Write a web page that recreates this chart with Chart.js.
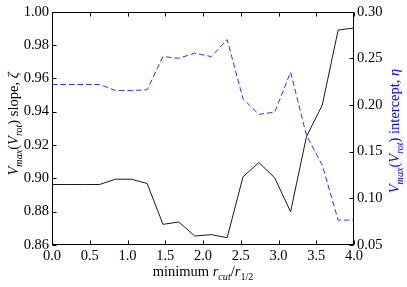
<!DOCTYPE html>
<html>
<head>
<meta charset="utf-8">
<script src="https://cdn.jsdelivr.net/npm/chart.js@4.4.1/dist/chart.umd.min.js"></script>
<style>
html,body{margin:0;padding:0;background:#fff;}
#wrap{width:407px;height:287px;}
</style>
</head>
<body>
<div id="wrap"><canvas id="c" width="407" height="287"></canvas></div>
<script>
// ---- data ----
const rcutMin = [0.00, 0.21, 0.42, 0.63, 0.84, 1.05, 1.26, 1.47, 1.68, 1.89, 2.11, 2.32, 2.53, 2.74, 2.95, 3.16, 3.37, 3.58, 3.79, 4.00];
const slopeZeta = [0.8963, 0.8963, 0.8963, 0.8963, 0.8995, 0.8995, 0.8969, 0.8724, 0.8738, 0.8654, 0.8662, 0.8644, 0.9009, 0.9095, 0.9003, 0.8799, 0.9250, 0.9440, 0.9890, 0.9902];
const interceptEta = [0.2220, 0.2220, 0.2220, 0.2220, 0.2156, 0.2156, 0.2163, 0.2519, 0.2501, 0.2555, 0.2519, 0.2701, 0.2067, 0.1900, 0.1924, 0.2352, 0.1675, 0.1355, 0.0767, 0.0767];
const xTicks = [0, 0.5, 1.0, 1.5, 2.0, 2.5, 3.0, 3.5, 4.0];
const leftTicks = [0.86, 0.88, 0.90, 0.92, 0.94, 0.96, 0.98, 1.00];
const rightTicks = [0.05, 0.10, 0.15, 0.20, 0.25, 0.30];

const SERIF = '"Liberation Serif", "DejaVu Serif", serif';
const BLUE = '#0000ff';

function pts(xs, ys){ return xs.map((x,i)=>({x:x, y:ys[i]})); }

// rich text segments: style 'n' normal, 'i' italic, 'si' italic subscript, 'sn' normal subscript
function drawRich(ctx, segs, cx, cy, rot, color, size){
  const sub = size*0.7;
  ctx.save();
  ctx.translate(cx, cy);
  ctx.rotate(rot);
  ctx.fillStyle = color;
  ctx.textBaseline = 'alphabetic';
  ctx.textAlign = 'left';
  const fontFor = (st)=> {
    const s = (st==='si'||st==='sn') ? sub : size;
    const it = (st==='i'||st==='si') ? 'italic ' : '';
    return it + s + 'px ' + SERIF;
  };
  let total = 0;
  segs.forEach(([t,st])=>{ ctx.font = fontFor(st); total += ctx.measureText(t).width; });
  let x = -total/2;
  segs.forEach(([t,st])=>{
    ctx.font = fontFor(st);
    const dy = (st==='si'||st==='sn') ? size*0.3 : 0;
    ctx.fillText(t, x, dy);
    x += ctx.measureText(t).width;
  });
  ctx.restore();
}

const decor = {
  id: 'decor',
  afterDraw(chart){
    const ctx = chart.ctx;
    const a = chart.chartArea;
    const sx = chart.scales.x, sy = chart.scales.y, sy1 = chart.scales.y1;
    ctx.save();
    ctx.strokeStyle = '#000';
    ctx.lineWidth = 1;
    const L = Math.round(a.left)+0.5, R = Math.round(a.right)-0.5, T = Math.round(a.top)+0.5, B = Math.round(a.bottom)-0.5;
    ctx.strokeRect(L, T, R-L, B-T);
    ctx.beginPath();
    const tl = 4;
    xTicks.forEach(v=>{
      const px = Math.round(sx.getPixelForValue(v))+0.5;
      ctx.moveTo(px, B); ctx.lineTo(px, B-tl);
      ctx.moveTo(px, T); ctx.lineTo(px, T+tl);
    });
    leftTicks.forEach(v=>{
      const py = Math.round(sy.getPixelForValue(v))+0.5;
      ctx.moveTo(L, py); ctx.lineTo(L+tl, py);
    });
    rightTicks.forEach(v=>{
      const py = Math.round(sy1.getPixelForValue(v))+0.5;
      ctx.moveTo(R, py); ctx.lineTo(R-tl, py);
    });
    ctx.stroke();
    ctx.restore();

    const fs = 14.5;
    drawRich(ctx, [['minimum ','n'],['r','i'],['cut','si'],['/','n'],['r','i'],['1/2','sn']], (a.left+a.right)/2, 276, 0, '#000', fs);
    drawRich(ctx, [['V','i'],['max','si'],['(','n'],['V','i'],['rot','si'],[')','n'],[' slope, ','n'],['ζ','i']], 18, 124, -Math.PI/2, '#000', fs);
    drawRich(ctx, [['V','i'],['max','si'],['(','n'],['V','i'],['rot','si'],[')','n'],[' intercept, ','n'],['η','i']], 399, 131, -Math.PI/2, BLUE, fs);
  }
};

new Chart(document.getElementById('c'), {
  type: 'line',
  data: {
    datasets: [
      { data: pts(rcutMin, slopeZeta), yAxisID: 'y', borderColor: '#1a1a1a', borderWidth: 1, pointRadius: 0, tension: 0, fill: false },
      { data: pts(rcutMin, interceptEta), yAxisID: 'y1', borderColor: '#2f2fff', borderWidth: 1, borderDash: [5.5, 3], pointRadius: 0, tension: 0, fill: false }
    ]
  },
  options: {
    responsive: false,
    animation: false,
    devicePixelRatio: 1,
    layout: { padding: { top: 11, left: 0, right: 0, bottom: 0 } },
    plugins: { legend: { display: false }, tooltip: { enabled: false } },
    scales: {
      x: {
        type: 'linear', min: 0, max: 4,
        grid: { display: false, drawTicks: false },
        border: { display: false },
        afterBuildTicks: (s)=>{ s.ticks = xTicks.map(v=>({value:v})); },
        ticks: { padding: 2, color: '#000', font: { family: SERIF, size: 14.5 }, maxRotation: 0, autoSkip: false, callback: v => Number(v).toFixed(1) },
        afterFit: (s)=>{ s.height = 42; }
      },
      y: {
        type: 'linear', position: 'left', min: 0.86, max: 1.00,
        grid: { display: false, drawTicks: false },
        border: { display: false },
        afterBuildTicks: (s)=>{ s.ticks = leftTicks.map(v=>({value:v})); },
        ticks: { padding: 3, color: '#000', font: { family: SERIF, size: 14.5 }, autoSkip: false, callback: v => Number(v).toFixed(2) },
        afterFit: (s)=>{ s.width = 52; }
      },
      y1: {
        type: 'linear', position: 'right', min: 0.05, max: 0.30,
        grid: { display: false, drawTicks: false },
        border: { display: false },
        afterBuildTicks: (s)=>{ s.ticks = rightTicks.map(v=>({value:v})); },
        ticks: { padding: 3, color: '#000', font: { family: SERIF, size: 14.5 }, autoSkip: false, callback: v => Number(v).toFixed(2) },
        afterFit: (s)=>{ s.width = 53; }
      }
    }
  },
  plugins: [decor]
});
</script>
</body>
</html>
